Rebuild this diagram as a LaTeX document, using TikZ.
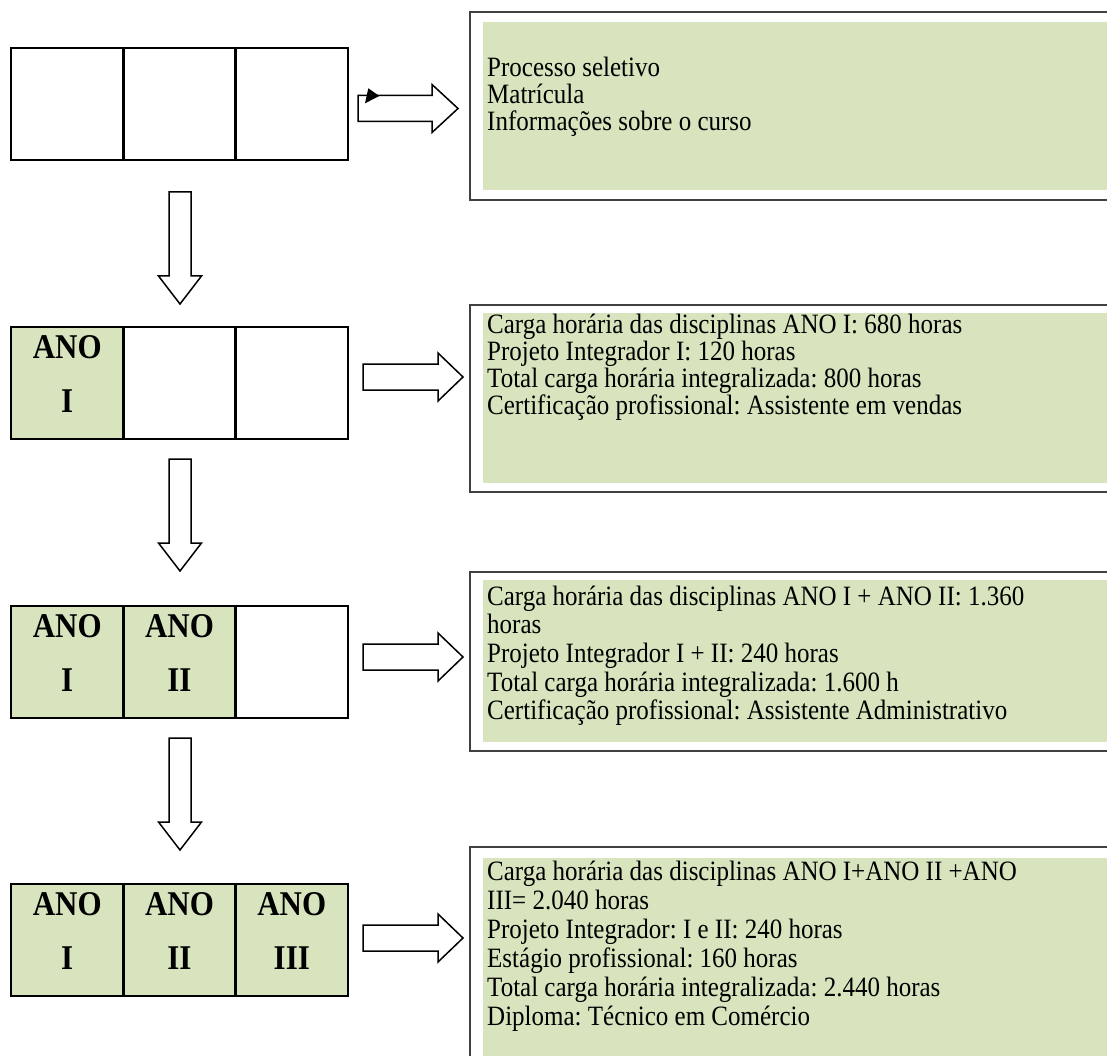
\documentclass[tikz,border=0pt]{standalone}
\usepackage{graphicx}
\usepackage{fontspec}
\setmainfont{Liberation Serif}
\frenchspacing
\definecolor{lgreen}{HTML}{D7E4BD}
\definecolor{frame}{HTML}{404040}
\newcommand\tall[1]{\scalebox{1}[1.12]{#1}}
\newcommand\rightblk[4]{% xl, xh, xt, yc
  \draw[blkarrow] (#1,#4-13) -- (#2,#4-13) -- (#2,#4-24) -- (#3,#4) -- (#2,#4+24) -- (#2,#4+13) -- (#1,#4+13) -- cycle;}
\newcommand\downblk[3]{% ytop, yhead, ytip
  \draw[blkarrow] (169,#1) -- (191,#1) -- (191,#2) -- (201.5,#2) -- (180,#3) -- (158.5,#2) -- (169,#2) -- cycle;}
\begin{document}
\begin{tikzpicture}[x=1pt,y=-1pt,
  cell/.style={draw, line width=2.6pt, minimum width=112.3pt, minimum height=112pt, inner sep=0pt, outer sep=0pt},
  gcell/.style={cell, fill=lgreen},
  ano/.style={font=\fontsize{31}{31}\selectfont\bfseries, anchor=base, inner sep=0pt},
  outerbox/.style={draw=frame, line width=1.4pt, fill=white, inner sep=0pt, minimum width=650pt},
  greenbox/.style={fill=lgreen, inner sep=0pt, minimum width=637pt},
  txt/.style={font=\fontsize{25}{28}\selectfont, anchor=base west, inner sep=0pt},
  blkarrow/.style={draw, line width=1.5pt, fill=white, line join=miter}]
\useasboundingbox (0,0) rectangle (1107,1056);
\clip (0,0) rectangle (1107,1056);

% ---- left tables ----
\node[cell]  (r1c1) at (67.2,104) {};
\node[cell]  (r1c2) at (179.5,104) {};
\node[cell]  (r1c3) at (291.8,104) {};
\node[gcell] (r2c1) at (67.2,383) {};
\node[cell]  (r2c2) at (179.5,383) {};
\node[cell]  (r2c3) at (291.8,383) {};
\node[gcell] (r3c1) at (67.2,662) {};
\node[gcell] (r3c2) at (179.5,662) {};
\node[cell]  (r3c3) at (291.8,662) {};
\node[gcell] (r4c1) at (67.2,940) {};
\node[gcell] (r4c2) at (179.5,940) {};
\node[gcell] (r4c3) at (291.8,940) {};

\node[ano] (a21) at ([yshift=25pt]r2c1.center) {\tall{ANO}};
\node[ano] (b21) at ([yshift=-29pt]r2c1.center) {\tall{I}};
\node[ano] (a31) at ([yshift=25pt]r3c1.center) {\tall{ANO}};
\node[ano] (b31) at ([yshift=-29pt]r3c1.center) {\tall{I}};
\node[ano] (a32) at ([yshift=25pt]r3c2.center) {\tall{ANO}};
\node[ano] (b32) at ([yshift=-29pt]r3c2.center) {\tall{II}};
\node[ano] (a41) at ([yshift=25pt]r4c1.center) {\tall{ANO}};
\node[ano] (b41) at ([yshift=-29pt]r4c1.center) {\tall{I}};
\node[ano] (a42) at ([yshift=25pt]r4c2.center) {\tall{ANO}};
\node[ano] (b42) at ([yshift=-29pt]r4c2.center) {\tall{II}};
\node[ano] (a43) at ([yshift=25pt]r4c3.center) {\tall{ANO}};
\node[ano] (b43) at ([yshift=-29pt]r4c3.center) {\tall{III}};

% ---- down arrows ----
\downblk{192}{276}{304}
\downblk{459}{543}{571}
\downblk{738}{822}{850}

% ---- right arrows ----
\rightblk{358}{432}{458}{108.5}
\fill (368.3,88.3) -- (365,103.3) -- (379.3,96) -- cycle;
\rightblk{363}{438}{463}{377}
\rightblk{363}{438}{463}{657}
\rightblk{363}{438}{463}{938}

% ---- right boxes ----
\node[outerbox, minimum height=188pt] (box1) at (795,106) {};
\node[greenbox, minimum height=168pt] (g1) at (801.5,106) {};
\node[outerbox, minimum height=187pt] (box2) at (795,398.5) {};
\node[greenbox, minimum height=170pt] (g2) at (801.5,398) {};
\node[outerbox, minimum height=179pt] (box3) at (795,661.5) {};
\node[greenbox, minimum height=162pt] (g3) at (801.5,661) {};
\node[outerbox, minimum height=233pt] (box4) at (795,963.5) {};
\node[greenbox, minimum height=222pt] (g4) at (801.5,969) {};

\foreach \t [count=\i] in {{Processo seletivo},{Matrícula},{Informações sobre o curso}}
  \node[txt] (t1-\i) at (487,{77+27*(\i-1)}) {\tall{\t}};
\foreach \t [count=\i] in {{Carga horária das disciplinas ANO I: 680 horas},{Projeto Integrador I: 120 horas},{Total carga horária integralizada: 800 horas},{Certificação profissional: Assistente em vendas}}
  \node[txt] (t2-\i) at (487,{333+27*(\i-1)}) {\tall{\t}};
\foreach \t [count=\i] in {{Carga horária das disciplinas ANO I + ANO II: 1.360},{horas},{Projeto Integrador I + II: 240 horas},{Total carga horária integralizada: 1.600 h},{Certificação profissional: Assistente Administrativo}}
  \node[txt] (t3-\i) at (487,{605+28.7*(\i-1)}) {\tall{\t}};
\foreach \t [count=\i] in {{Carga horária das disciplinas ANO I+ANO II +ANO},{III= 2.040 horas},{Projeto Integrador: I e II: 240 horas},{Estágio profissional: 160 horas},{Total carga horária integralizada: 2.440 horas},{Diploma: Técnico em Comércio}}
  \node[txt] (t4-\i) at (487,{880+29*(\i-1)}) {\tall{\t}};
\end{tikzpicture}
\end{document}
